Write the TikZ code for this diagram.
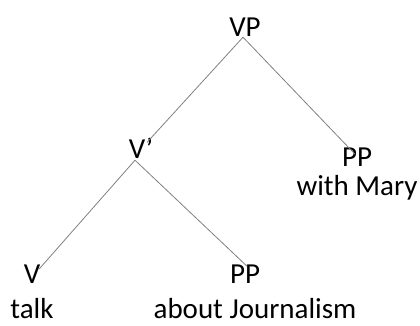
\documentclass[tikz,border=0pt]{standalone}
\usepackage{fontspec}
\setmainfont{Carlito}
\begin{document}
\begin{tikzpicture}[x=1pt,y=-1pt,
  lbl/.style={anchor=base,inner sep=0pt,text depth=0pt,font=\fontsize{29}{35}\selectfont},
  edge/.style={draw=black!50,line width=0.8pt}]
\useasboundingbox (0,0) rectangle (420,325);
\node[lbl] (vp) at (245,36) {VP};
\node[lbl] (vbar) at (141,158) {V’};
\node[lbl] (ppr) at (357,166) {PP};
\node[lbl] (with) at (357,195) {with Mary};
\node[lbl] (v) at (32,283) {V};
\node[lbl] (ppb) at (245,283) {PP};
\node[lbl] (talk) at (32,318) {talk};
\node[lbl] (about) at (255,318) {about Journalism};
\coordinate (vptop) at ([xshift=-2pt,yshift=-1pt]vp.south);
\coordinate (vbarbot) at ([xshift=-6pt,yshift=-2pt]vbar.south);
\draw[edge] (vptop) -- ([xshift=6pt,yshift=-5pt]vbar.north);
\draw[edge] (vptop) -- ([xshift=-2pt,yshift=-7pt]ppr.north);
\draw[edge] (vbarbot) -- ([xshift=7pt,yshift=-5pt]v.north);
\draw[edge] (vbarbot) -- ([xshift=2pt,yshift=-2pt]ppb.north);
\end{tikzpicture}
\end{document}
